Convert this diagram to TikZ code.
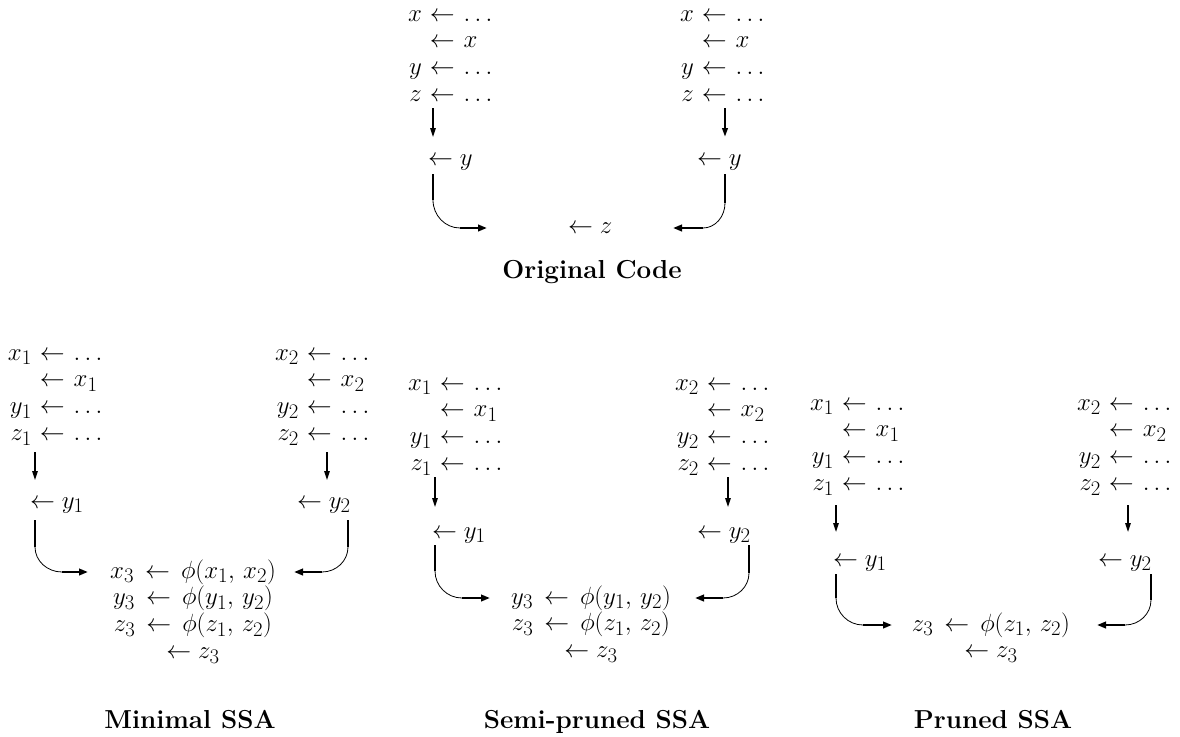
\documentclass[tikz,border=0pt]{standalone}
\usepackage{fontspec}
\usetikzlibrary{arrows.meta,calc}
% spaced ellipsis used on the right-hand side of assignments
\newcommand\dotsrow{.\,.\,.}
% phi-assignment with slightly opened spacing
\newcommand\phiassign[3]{#1\mathrel{\,\leftarrow\,}\phi(#2,\,#3)}
% one block of straight-line code: lhs | arrow | rhs
\newcommand\codeblock[8]{%
  $\begin{array}[t]{@{}r@{\hspace{8pt}}c@{\hspace{9pt}}l@{}}
    #1 & \leftarrow & #2\\
    #3 & \leftarrow & #4\\
    #5 & \leftarrow & #6\\
    #7 & \leftarrow & #8
  \end{array}$}
% vertical stem, thin quarter bend, then a heavy arrowed run into the join block
\newcommand\mergepath[4]{%
  \draw[stem] (#1) -- (#2);
  \draw[elbow] (#2) .. controls ($(#2)!0.552!(#2|-#3)$) and ($(#3)!0.552!(#2|-#3)$) .. (#3);
  \draw[feed] (#3) -- (#4);}
\begin{document}
\begin{tikzpicture}[x=1pt,y=-1pt,
  every node/.style={inner sep=0pt,outer sep=0pt},
  code/.style={font=\fontsize{24.88}{26.8}\selectfont,anchor=base west},
  joinblk/.style={font=\fontsize{24.88}{26.8}\selectfont,anchor=base},
  title/.style={font=\fontsize{26}{30}\selectfont\bfseries,anchor=base},
  flow/.style={line width=1.5pt,-{Triangle[length=9pt,width=5.5pt]}},
  heavyflow/.style={flow,line width=2.2pt},
  stem/.style={line width=2pt},
  elbow/.style={line width=0.8pt},
  feed/.style={line width=2.4pt,-{Triangle[length=9pt,width=6.5pt]}}]
\useasboundingbox (0,0) rectangle (1180,736);

% ---------------- Original code ----------------
\node[code] (oL) at (408,21) {\codeblock{x}{\dotsrow}{}{x}{y}{\dotsrow}{z}{\dotsrow}};
\node[code] (oR) at (680,21) {\codeblock{x}{\dotsrow}{}{x}{y}{\dotsrow}{z}{\dotsrow}};
\node[code] (oyL) at (428,165) {$\leftarrow y$};
\node[code] (oyR) at (697,165) {$\leftarrow y$};
\node[code] (oz) at (568,233) {$\leftarrow z$};
\node[title] (oT) at (592,278) {Original Code};

\coordinate (oa1) at (433,108); \coordinate (oa2) at (433,137);
\coordinate (ob1) at (725,108); \coordinate (ob2) at (725,137);
\draw[flow] (oa1) -- (oa2);
\draw[heavyflow] (ob1) -- (ob2);
\coordinate (oc1) at (433,174); \coordinate (oc2) at (433,200);
\coordinate (oc3) at (460,228); \coordinate (oc4) at (487,228);
\mergepath{oc1}{oc2}{oc3}{oc4}
\coordinate (od1) at (725,174); \coordinate (od2) at (725,203);
\coordinate (od3) at (703,228); \coordinate (od4) at (673,228);
\mergepath{od1}{od2}{od3}{od4}

% ---------------- Minimal SSA ----------------
\node[code] (mL) at (8,360) {\codeblock{x_1}{\dotsrow}{}{x_1}{y_1}{\dotsrow}{z_1}{\dotsrow}};
\node[code] (mR) at (275,360) {\codeblock{x_2}{\dotsrow}{}{x_2}{y_2}{\dotsrow}{z_2}{\dotsrow}};
\node[code] (myL) at (30,508) {$\leftarrow y_1$};
\node[code] (myR) at (297,508) {$\leftarrow y_2$};
\node[joinblk] (mJ) at (193,578) {$\begin{array}[t]{@{}c@{}}
  \phiassign{x_3}{x_1}{x_2}\\
  \phiassign{y_3}{y_1}{y_2}\\
  \phiassign{z_3}{z_1}{z_2}\\
  \leftarrow z_3
  \end{array}$};
\node[title] (mT) at (190,728) {Minimal SSA};

\coordinate (ma1) at (35,452); \coordinate (ma2) at (35,480);
\coordinate (mb1) at (327,452); \coordinate (mb2) at (327,480);
\draw[flow] (ma1) -- (ma2);
\draw[flow] (mb1) -- (mb2);
\coordinate (mc1) at (35,520); \coordinate (mc2) at (35,547);
\coordinate (mc3) at (62,572); \coordinate (mc4) at (88,572);
\mergepath{mc1}{mc2}{mc3}{mc4}
\coordinate (md1) at (348,520); \coordinate (md2) at (348,547);
\coordinate (md3) at (322,572); \coordinate (md4) at (294,572);
\mergepath{md1}{md2}{md3}{md4}

% ---------------- Semi-pruned SSA ----------------
\node[code] (sL) at (408,390) {\codeblock{x_1}{\dotsrow}{}{x_1}{y_1}{\dotsrow}{z_1}{\dotsrow}};
\node[code] (sR) at (675,390) {\codeblock{x_2}{\dotsrow}{}{x_2}{y_2}{\dotsrow}{z_2}{\dotsrow}};
\node[code] (syL) at (432,538) {$\leftarrow y_1$};
\node[code] (syR) at (697,538) {$\leftarrow y_2$};
\node[joinblk] (sJ) at (591,604) {$\begin{array}[t]{@{}c@{}}
  \phiassign{y_3}{y_1}{y_2}\\
  \phiassign{z_3}{z_1}{z_2}\\
  \leftarrow z_3
  \end{array}$};
\node[title] (sT) at (597,728) {Semi-pruned SSA};

\coordinate (sa1) at (435,477); \coordinate (sa2) at (435,507);
\coordinate (sb1) at (728,477); \coordinate (sb2) at (728,507);
\draw[flow] (sa1) -- (sa2);
\draw[flow] (sb1) -- (sb2);
\coordinate (sc1) at (435,545); \coordinate (sc2) at (435,571);
\coordinate (sc3) at (462,598); \coordinate (sc4) at (490,598);
\mergepath{sc1}{sc2}{sc3}{sc4}
\coordinate (sd1) at (749,545); \coordinate (sd2) at (749,573);
\coordinate (sd3) at (723,598); \coordinate (sd4) at (695,598);
\mergepath{sd1}{sd2}{sd3}{sd4}

% ---------------- Pruned SSA ----------------
\node[code] (pL) at (810,410) {\codeblock{x_1}{\dotsrow}{}{x_1}{y_1}{\dotsrow}{z_1}{\dotsrow}};
\node[code] (pR) at (1077,410) {\codeblock{x_2}{\dotsrow}{}{x_2}{y_2}{\dotsrow}{z_2}{\dotsrow}};
\node[code] (pyL) at (833,566) {$\leftarrow y_1$};
\node[code] (pyR) at (1098,566) {$\leftarrow y_2$};
\node[joinblk] (pJ) at (991,631) {$\begin{array}[t]{@{}c@{}}
  \phiassign{z_3}{z_1}{z_2}\\
  \leftarrow z_3
  \end{array}$};
\node[title] (pT) at (993,728) {Pruned SSA};

\coordinate (pa1) at (836,505); \coordinate (pa2) at (836,532);
\coordinate (pb1) at (1128,505); \coordinate (pb2) at (1128,532);
\draw[flow] (pa1) -- (pa2);
\draw[flow] (pb1) -- (pb2);
\coordinate (pc1) at (836,574); \coordinate (pc2) at (836,598);
\coordinate (pc3) at (863,625); \coordinate (pc4) at (892,625);
\mergepath{pc1}{pc2}{pc3}{pc4}
\coordinate (pd1) at (1151,574); \coordinate (pd2) at (1151,600);
\coordinate (pd3) at (1125,625); \coordinate (pd4) at (1097,625);
\mergepath{pd1}{pd2}{pd3}{pd4}
\end{tikzpicture}
\end{document}
